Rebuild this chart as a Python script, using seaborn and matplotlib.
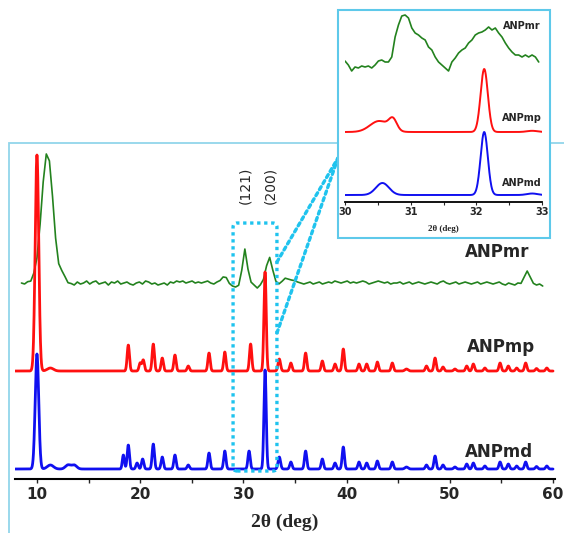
import numpy as np
import matplotlib
matplotlib.use("Agg")
import matplotlib.pyplot as plt
import seaborn as sns
from matplotlib.patches import Rectangle, FancyBboxPatch, ConnectionPatch
from matplotlib.ticker import MultipleLocator

# ---- peak tables (2theta in deg, heights in px units) ----
red_pos = [10.0, 11.3, 18.85, 20.0, 20.3, 21.27, 22.14, 23.37, 24.66, 26.67, 28.2,
           30.7, 32.1, 33.48, 34.6, 36.03, 37.65, 38.88, 39.68, 41.2, 41.95, 42.98,
           44.43, 45.8, 47.74, 48.57, 49.34, 50.5, 51.64, 52.28, 53.4, 54.87, 55.67,
           56.48, 57.35, 58.4, 59.4]
red_hgt = [216, 3, 26, 8, 11, 27, 13, 16, 5, 18, 19,
           27, 99, 12, 8, 18, 10, 7, 22, 7, 7, 9,
           8, 2, 5, 13, 4, 2, 5, 7, 3, 8, 5,
           3, 8, 2.5, 3]
red_wid = [0.17, 0.3, 0.11, 0.11, 0.11, 0.11, 0.11, 0.11, 0.11, 0.11, 0.11,
           0.11, 0.11, 0.12, 0.11, 0.11, 0.11, 0.11, 0.11, 0.11, 0.11, 0.11,
           0.11, 0.15, 0.11, 0.11, 0.11, 0.12, 0.11, 0.11, 0.11, 0.11, 0.11,
           0.11, 0.11, 0.11, 0.11]

blue_pos = [10.0, 11.3, 13.0, 13.6, 18.37, 18.85, 19.7, 20.24, 21.27, 22.14, 23.37,
            24.66, 26.67, 28.2, 30.55, 32.1, 33.48, 34.6, 36.03, 37.65, 38.88, 39.68,
            41.2, 41.95, 42.98, 44.43, 45.8, 47.74, 48.57, 49.34, 50.5, 51.64, 52.28,
            53.4, 54.87, 55.67, 56.48, 57.35, 58.4, 59.4]
blue_hgt = [115, 4, 4, 4, 14, 24, 6, 10, 25, 12, 14,
            4, 16, 18, 18, 99, 12, 7, 18, 10, 6, 22,
            7, 6, 8, 7, 2, 4, 13, 4, 2, 5, 6,
            3, 7, 5, 3, 7, 2.5, 3]
blue_wid = [0.17, 0.3, 0.25, 0.25, 0.1, 0.11, 0.11, 0.11, 0.11, 0.11, 0.11,
            0.11, 0.11, 0.11, 0.11, 0.11, 0.12, 0.11, 0.11, 0.11, 0.11, 0.11,
            0.11, 0.11, 0.11, 0.11, 0.15, 0.11, 0.11, 0.11, 0.12, 0.11, 0.11,
            0.11, 0.11, 0.11, 0.11, 0.11, 0.11, 0.11]

green_pos = [11.0, 12.6, 28.2, 30.15, 32.5, 34.3, 57.5]
green_hgt = [131, 8, 7, 34, 26, 4, 12]
green_wid = [0.55, 0.3, 0.2, 0.22, 0.28, 0.3, 0.25]
# baseline wiggle of the amorphous (mr) trace, one value per 0.3 deg step
green_wiggle = [0, -1, 1, 0, 2, 0, 0, 0, 0, 0, 1, 0, 0,
                1, -2, -3, -1, -2, 1, -1, 0, 2, -1, 1, 2, -1,
                0, 1, -2, 1, 0, 2, -1, 0, 1, -1, -2, 0, 1,
                -1, 2, 1, -1, 0, -2, -1, 0, -2, 1, 0, 2, 1,
                2, 0, 1, 2, 0, 1, 0, 1, 2, 0, -1, 1, 2,
                1, 0, -1, -3, -4, -3, 0, 0, 0, 0, -2, -5, -2,
                0, 0, 0, 1, 0, -1, 1, 2, 0, 1, 2, 1, 0,
                -1, 0, 1, -1, 0, 1, -1, 0, 1, 0, 2, 1, 0,
                1, 2, 0, 1, 0, 1, 2, 1, -1, 0, 1, 2, 1,
                0, 1, -1, 0, 0, 1, -1, 0, 1, -1, 0, 1, 0,
                -1, 0, 1, 0, -1, 1, 2, 0, -1, 0, 1, -1, 0,
                1, 0, -1, 0, 1, -1, 0, 1, 0, -1, 0, 1, -1,
                -2, 0, -1, -2, 0, -1, 0, 0, 0, -1, -2, -1, -3]

offsets = {"ANPmd": 0, "ANPmp": 98, "ANPmr": 186}

# ---- zoomed 30-33 deg window ----
in_red_pos = [30.52, 30.73, 32.12, 32.85]
in_red_hgt = [11, 11, 63, 1.2]
in_red_wid = [0.14, 0.06, 0.055, 0.08]
in_blue_pos = [30.57, 32.12, 32.85]
in_blue_hgt = [12, 63, 1.5]
in_blue_wid = [0.1, 0.055, 0.08]
in_green = [134, 130, 124, 128, 127, 129, 128, 129, 127, 130, 134, 135, 133, 133,
            138, 158, 170, 179, 180, 177, 167, 162, 160, 157, 155, 148, 145, 138,
            133, 130, 127, 124, 133, 137, 142, 145, 147, 152, 155, 160, 162, 163,
            165, 168, 165, 167, 162, 158, 152, 147, 143, 140, 140, 138, 140, 138,
            140, 138, 133]
in_offsets = {"ANPmd": 0, "ANPmp": 63}


def profile(x, pos, hgt, wid):
    y = np.zeros_like(x)
    for p, h, w in zip(pos, hgt, wid):
        y += h * np.exp(-0.5 * ((x - p) / w) ** 2)
    return y


sns.set_style("white")
plt.rcParams['font.family'] = ['DejaVu Sans']

RED = "#ff1010"
BLUE = "#1010f0"
GREEN = "#23821e"
CYAN = "#1fc3ee"
DOTS = (0, (1, 1.1))

fig = plt.figure(figsize=(5.64, 5.33), dpi=100)
ax = fig.add_axes([0.0271, 0.1013, 0.9571, 0.6266])

x = np.arange(7.9, 60.01, 0.02)
xg = np.linspace(8.5, 59.0, len(green_wiggle))
yg = profile(xg, green_pos, green_hgt, green_wid) + np.array(green_wiggle) + offsets["ANPmr"]
yr = profile(x, red_pos, red_hgt, red_wid) + offsets["ANPmp"]
yb = profile(x, blue_pos, blue_hgt, blue_wid) + offsets["ANPmd"]

sns.lineplot(x=xg, y=yg, ax=ax, color=GREEN, lw=1.2, estimator=None, sort=False, zorder=2)
sns.lineplot(x=x, y=yr, ax=ax, color=RED, lw=2.0, estimator=None, sort=False, zorder=3)
sns.lineplot(x=x, y=yb, ax=ax, color=BLUE, lw=2.0, estimator=None, sort=False, zorder=4)

ax.set_xlim(7.9, 60.2)
ax.set_ylim(-10, 324)
for s in ["left", "right", "top"]:
    ax.spines[s].set_visible(False)
ax.spines["bottom"].set_linewidth(1.5)
ax.spines["bottom"].set_color("black")
ax.set_yticks([])
ax.xaxis.set_major_locator(MultipleLocator(10))
ax.xaxis.set_minor_locator(MultipleLocator(5))
ax.tick_params(axis="x", which="both", direction="out", length=3, width=1,
               labelsize=11, pad=3, bottom=True)
for lbl in ax.get_xticklabels():
    lbl.set_fontweight("bold")
ax.set_xlabel("2θ (deg)", fontsize=14, fontweight="bold",
              family=["Liberation Serif", "DejaVu Serif"], labelpad=8)
ax.set_ylabel("")

for name, (lx, ly) in {"ANPmr": (54.6, 217), "ANPmp": (54.96, 122),
                       "ANPmd": (54.8, 17)}.items():
    ax.text(lx, ly, name, ha="center", va="center", fontsize=12, fontweight="bold")

ax.text(30.15, 284, "(121)", rotation=90, ha="center", va="center", fontsize=10)
ax.text(32.58, 284, "(200)", rotation=90, ha="center", va="center", fontsize=10)

# dotted rounded selection box
box = FancyBboxPatch((29.0, -2), 4.25, 248,
                     boxstyle="round,pad=0,rounding_size=0.4", mutation_aspect=10.32,
                     fill=False, ec=CYAN, lw=2.4, ls=DOTS, zorder=6)
ax.add_patch(box)

# frame around the main panel
fig.add_artist(Rectangle((9 / 564, -0.1), 1.2, 0.7317 + 0.1, transform=fig.transFigure,
                         fill=False, ec="#92d5ea", lw=1.3, zorder=1))

# zoom lines
for ya in (207, 136):
    con = ConnectionPatch(xyA=(33.25, ya), coordsA=ax.transData,
                          xyB=(338 / 564, 1 - 158 / 533), coordsB=fig.transFigure,
                          color=CYAN, lw=2.4, ls=DOTS, zorder=2)
    fig.add_artist(con)

# inset frame
fig.add_artist(Rectangle((338 / 564, 1 - 238 / 533), 212 / 564, 228 / 533,
                         transform=fig.transFigure, fc="white", ec="#5ec9ea",
                         lw=1.5, zorder=3))

axin = fig.add_axes([0.6117, 0.6210, 0.3493, 0.3565])
axin.set_zorder(4)
axin.patch.set_alpha(0)
xi = np.linspace(30.0, 33.0, 600)
xgi = np.linspace(30.0, 32.95, len(in_green))
sns.lineplot(x=xgi, y=in_green, ax=axin, color=GREEN, lw=1.2, estimator=None, sort=False)
sns.lineplot(x=xi, y=profile(xi, in_red_pos, in_red_hgt, in_red_wid) + in_offsets["ANPmp"],
             ax=axin, color=RED, lw=1.4, estimator=None, sort=False)
sns.lineplot(x=xi, y=profile(xi, in_blue_pos, in_blue_hgt, in_blue_wid) + in_offsets["ANPmd"],
             ax=axin, color=BLUE, lw=1.4, estimator=None, sort=False)
axin.set_xlim(30, 33)
axin.set_ylim(-7, 183)
for s in ["left", "right", "top"]:
    axin.spines[s].set_visible(False)
axin.spines["bottom"].set_linewidth(1.3)
axin.spines["bottom"].set_color("black")
axin.set_yticks([])
axin.xaxis.set_major_locator(MultipleLocator(1))
axin.xaxis.set_minor_locator(MultipleLocator(0.5))
narrow = ["Liberation Sans Narrow", "DejaVu Sans"]
axin.tick_params(axis="x", which="both", direction="out", length=2, width=0.8,
                 labelsize=7, pad=1.5, bottom=True)
for lbl in axin.get_xticklabels():
    lbl.set_fontweight("bold")
    lbl.set_family(narrow)
axin.set_xlabel("2θ (deg)", fontsize=6.5, fontweight="bold",
                family=["Liberation Serif", "DejaVu Serif"], labelpad=6)
axin.set_ylabel("")
for name, ly in {"ANPmr": 169, "ANPmp": 77, "ANPmd": 12}.items():
    axin.text(32.69, ly, name, ha="center", va="center", fontsize=7,
              fontweight="bold", family=narrow)

fig.savefig("out.png", dpi=100)
